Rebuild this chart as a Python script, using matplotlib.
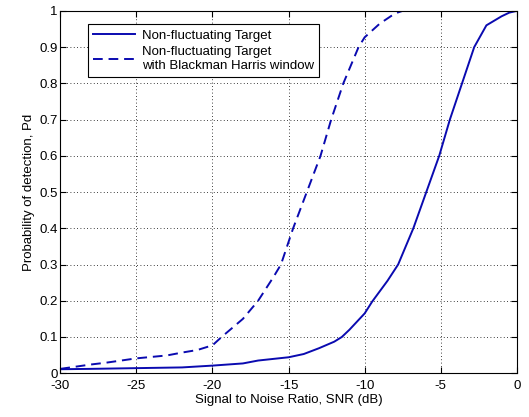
import matplotlib
matplotlib.use("Agg")
import matplotlib.pyplot as plt

plt.rcParams['font.family'] = ['Liberation Sans', 'DejaVu Sans']
plt.rcParams['axes.unicode_minus'] = False

# Non-fluctuating target
snr_plain = [-30, -28, -25, -22, -20, -18, -17, -15, -14, -13, -12, -11.5, -11, -10,
             -9.5, -8.5, -7.8, -6.8, -5.95, -5.1, -4.4, -3.6, -2.8, -2, -1, -0.5, 0]
pd_plain = [0.011, 0.012, 0.014, 0.016, 0.021, 0.027, 0.035, 0.044, 0.053, 0.069, 0.087,
            0.10, 0.12, 0.165, 0.198, 0.255, 0.30, 0.40, 0.50, 0.60, 0.70, 0.80, 0.90,
            0.96, 0.985, 0.995, 1.0]

# Non-fluctuating target, Blackman Harris window
snr_bh = [-30, -29, -28, -27, -26, -25, -24, -23, -22, -21, -20, -19.4, -18, -17, -16,
          -15.5, -14.7, -13.8, -12.9, -12.2, -11.4, -10.4, -10, -9, -8, -7.5, -5, 0]
pd_bh = [0.012, 0.018, 0.024, 0.029, 0.035, 0.041, 0.045, 0.049, 0.057, 0.064, 0.077,
         0.10, 0.15, 0.20, 0.265, 0.30, 0.40, 0.50, 0.60, 0.70, 0.80, 0.90,
         0.927, 0.965, 0.993, 1.0, 1.0, 1.0]

fig = plt.figure(figsize=(5.29, 4.17), dpi=100)
ax = fig.add_axes([0.114, 0.105, 0.863, 0.869])

blue = '#0a0ab0'
ax.plot(snr_plain, pd_plain, color=blue, lw=1.4, label='Non-fluctuating Target')
ax.plot(snr_bh, pd_bh, color=blue, lw=1.4, ls=(0, (5, 3)),
        label='Non-fluctuating Target\nwith Blackman Harris window')

ax.set_xlim(-30, 0)
ax.set_ylim(0, 1)
ax.set_xticks(range(-30, 1, 5))
ax.set_yticks([i / 10 for i in range(11)])
ax.set_yticklabels(['0', '0.1', '0.2', '0.3', '0.4', '0.5', '0.6', '0.7', '0.8', '0.9', '1'])
ax.tick_params(direction='in', top=True, right=True, labelsize=9.5, length=4)
ax.tick_params(axis='x', pad=5)
ax.tick_params(axis='y', pad=2)
ax.grid(True, color='black', ls=(0, (1, 3)), lw=0.6)
for s in ax.spines.values():
    s.set_linewidth(0.8)

ax.set_xlabel('Signal to Noise Ratio, SNR (dB)', fontsize=9.5, labelpad=1)
ax.set_ylabel('Probability of detection, Pd', fontsize=9.5, labelpad=3)

leg = ax.legend(loc='upper left', bbox_to_anchor=(0.06, 0.963), borderaxespad=0,
                fontsize=9.5, fancybox=False, framealpha=1, edgecolor='black',
                handlelength=3.2, labelspacing=0.3, borderpad=0.4, handletextpad=0.5)
leg.get_frame().set_linewidth(0.8)

fig.savefig('out.png', dpi=100)
